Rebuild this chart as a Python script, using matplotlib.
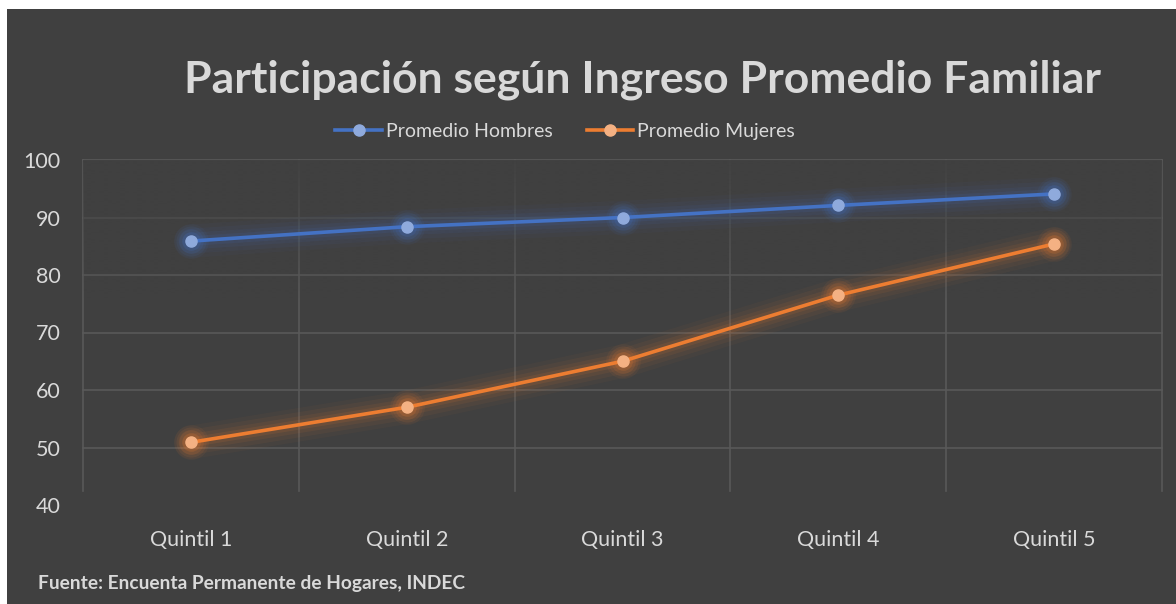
import matplotlib
matplotlib.use('Agg')
import matplotlib.pyplot as plt
import numpy as np

plt.rcParams['font.family'] = ['Lato', 'DejaVu Sans']

# datos
quintiles = ['Quintil 1', 'Quintil 2', 'Quintil 3', 'Quintil 4', 'Quintil 5']
hombres = [85.9, 88.4, 90.0, 92.1, 94.1]
mujeres = [50.9, 57.0, 65.0, 76.5, 85.4]
y_ticks = [40, 50, 60, 70, 80, 90, 100]

bg = '#404040'
txt = '#d9d9d9'
grid_c = '#595959'
blue, blue_m = '#4472c4', '#8faadc'
orange, orange_m = '#ed7d31', '#f4b183'

W, H = 1176, 604
fig = plt.figure(figsize=(W / 100, H / 100), dpi=100)
fig.patch.set_facecolor('white')
# fondo oscuro del gráfico (con borde blanco arriba/izquierda)
fig.patches.append(plt.Rectangle((7 / W, 0), 1 - 7 / W, 1 - 9 / H,
                                 transform=fig.transFigure, facecolor=bg,
                                 edgecolor='none', zorder=-10))

ax = fig.add_axes([83 / W, 1 - 505 / H, (1162 - 83) / W, (505 - 160) / H])
ax.set_facecolor('none')
x = np.arange(len(quintiles))

# cuadrícula
for v in y_ticks[1:]:
    ax.axhline(v, color=grid_c, lw=1.2, zorder=1, clip_on=False)
for v in np.arange(-0.5, len(quintiles), 1.0):
    ax.plot([v, v], [42.5, 100], color=grid_c, lw=1.2, zorder=1, clip_on=False)

# desvanecimiento de la cuadrícula hacia abajo
grad = np.linspace(0, 1, 200)
alpha = np.clip((grad - 0.6) / 0.4, 0, 1) * 0.92
rgba = np.zeros((200, 1, 4))
rgba[..., :3] = np.array([0x40, 0x40, 0x40]) / 255
rgba[:, 0, 3] = alpha
ax.imshow(rgba, extent=[-0.5, 4.5, 100, 40], aspect='auto', zorder=2,
          interpolation='bilinear', origin='upper')
ax.set_xlim(-0.5, len(quintiles) - 0.5)
ax.set_ylim(40, 100)

# efecto de brillo
for vals, c in [(hombres, blue), (mujeres, orange)]:
    for lw, a in [(24, 0.04), (18, 0.06), (12, 0.08), (7, 0.11)]:
        ax.plot(x, vals, color=c, lw=lw, alpha=a, solid_capstyle='round', zorder=3)
        ax.scatter(x, vals, s=lw * 26, color=c, alpha=a * 1.6, lw=0, zorder=3)

l1, = ax.plot(x, hombres, color=blue, lw=2.6, marker='o', ms=8,
              mfc=blue_m, mec=blue_m, zorder=5, label='Promedio Hombres')
l2, = ax.plot(x, mujeres, color=orange, lw=2.6, marker='o', ms=8,
              mfc=orange_m, mec=orange_m, zorder=5, label='Promedio Mujeres')

ax.set_xticks(x)
ax.set_xticklabels(quintiles)
ax.set_yticks(y_ticks)
ax.tick_params(axis='both', length=0, colors=txt, labelsize=15.5)
ax.tick_params(axis='x', pad=18)
ax.tick_params(axis='y', pad=16)
for s in ax.spines.values():
    s.set_visible(False)

fig.text(642 / W, 1 - 80 / H, 'Participación según Ingreso Promedio Familiar',
         ha='center', va='center', color=txt, fontsize=32, fontweight='bold')

fig.legend(handles=[l1, l2], loc='center', bbox_to_anchor=(565 / W, 1 - 131 / H),
           ncol=2, frameon=False, fontsize=14, labelcolor=txt,
           handlelength=2.4, handletextpad=0.2, columnspacing=1.75)

fig.text(38 / W, 1 - 584 / H, 'Fuente: Encuenta Permanente de Hogares, INDEC',
         ha='left', va='center', color=txt, fontsize=13.8, fontweight='bold')

fig.savefig('out.png', dpi=100, facecolor=fig.get_facecolor())
